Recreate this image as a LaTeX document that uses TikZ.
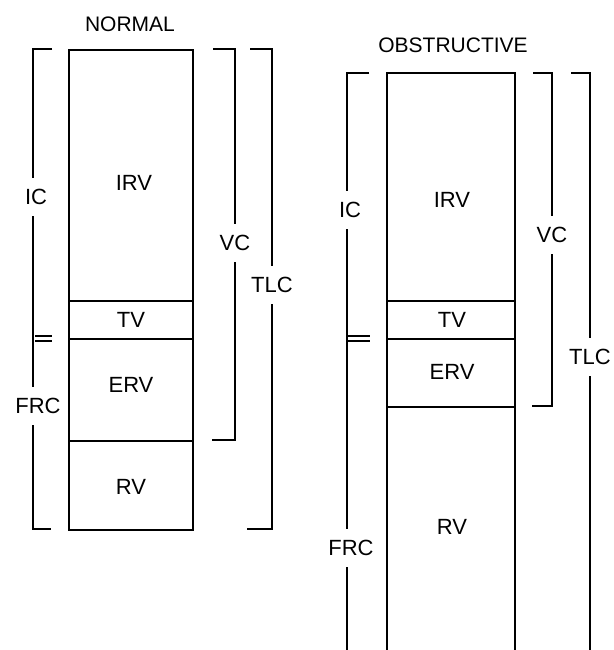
\documentclass[tikz,border=0pt]{standalone}
\usepackage{fontspec}
\setmainfont{Liberation Sans}
\begin{document}
\begin{tikzpicture}[x=1pt,y=-1pt,
  ln/.style={line width=2.7pt,line cap=butt,line join=miter},
  thin2/.style={line width=1.5pt},
  lbl/.style={font=\fontsize{22}{26}\selectfont,inner sep=0pt},
  brk/.style={font=\fontsize{22}{26}\selectfont,fill=white,inner xsep=3pt,inner ysep=11pt},
  ttl/.style={font=\fontsize{21}{25}\selectfont,inner sep=0pt}]
\useasboundingbox (0,0) rectangle (613,650);
\clip (0,0) rectangle (613,650);

% ---------- NORMAL ----------
\node[ttl] (tN) at (130,24) {NORMAL};
% box
\draw[ln] (69,50) rectangle (193,530);
\draw[ln] (69,301) -- (193,301);
\draw[ln] (69,339) -- (193,339);
\draw[ln] (69,441) -- (193,441);
\node[lbl] (irvN) at (134,183) {IRV};
\node[lbl] (tvN) at (131,320) {TV};
\node[lbl] (ervN) at (131,385) {ERV};
\node[lbl] (rvN) at (131,487) {RV};
% left bracket IC/FRC
\draw[ln] (52,49) -- (33,49) -- (33,529) -- (51,529);
\draw[thin2] (35,336) -- (52,336);
\draw[thin2] (35,341) -- (52,341);
% VC bracket
\draw[ln] (213,49) -- (235,49) -- (235,440) -- (212,440);
% TLC bracket
\draw[ln] (250,49) -- (272,49) -- (272,529) -- (247,529);
\node[brk] (icN) at (36,197) {IC};
\node[brk] (frcN) at (38,406) {FRC};
\node[brk] (vcN) at (235,243) {VC};
\node[brk] (tlcN) at (272,285) {TLC};

% ---------- OBSTRUCTIVE ----------
\node[ttl] (tO) at (453,45) {OBSTRUCTIVE};
\draw[ln] (387,660) -- (387,73) -- (515,73) -- (515,660);
\draw[ln] (387,301) -- (515,301);
\draw[ln] (387,339) -- (515,339);
\draw[ln] (387,407) -- (515,407);
\node[lbl] (irvO) at (452,200) {IRV};
\node[lbl] (tvO) at (452,320) {TV};
\node[lbl] (ervO) at (452,372) {ERV};
\node[lbl] (rvO) at (452,527) {RV};
% left bracket
\draw[ln] (369,73) -- (347,73) -- (347,660);
\draw[thin2] (348,336) -- (370,336);
\draw[thin2] (348,341) -- (370,341);
% VC bracket
\draw[ln] (533,73) -- (552,73) -- (552,406) -- (532,406);
% TLC bracket
\draw[ln] (571,73) -- (590,73) -- (590,660);
\node[brk] (icO) at (350,210) {IC};
\node[brk] (frcO) at (351,548) {FRC};
\node[brk] (vcO) at (552,235) {VC};
\node[brk] (tlcO) at (590,357) {TLC};
\end{tikzpicture}
\end{document}
